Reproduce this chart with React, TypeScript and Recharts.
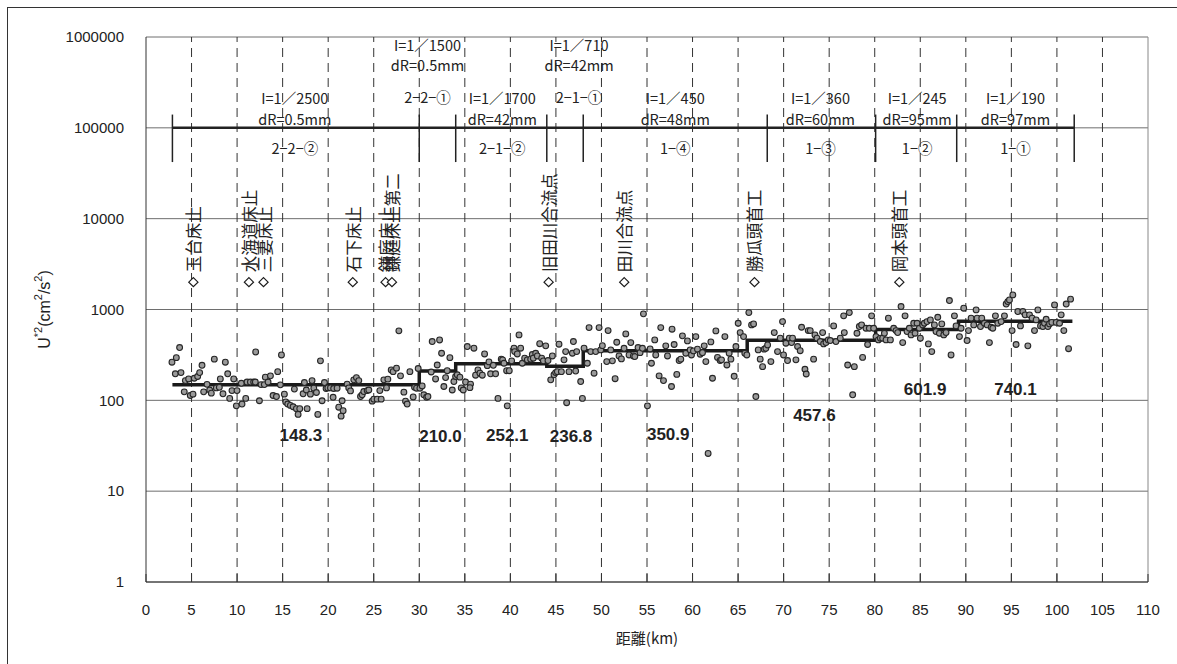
import React from 'react';
import {
  ComposedChart,
  XAxis,
  YAxis,
  CartesianGrid,
  Scatter,
  Line,
  ReferenceLine,
} from 'recharts';

// ---- axes ----
const X_TICKS = [0, 5, 10, 15, 20, 25, 30, 35, 40, 45, 50, 55, 60, 65, 70, 75, 80, 85, 90, 95, 100, 105, 110];
const Y_TICKS = [1, 10, 100, 1000, 10000, 100000, 1000000];
const DASHED_KM = [5, 10, 15, 20, 25, 30, 35, 40, 45, 50, 55, 60, 65, 70, 75, 80, 85, 90, 95, 100, 105];

// ---- U*^2 at each cross-section: [distance km, U*^2 cm2/s2] ----
const SAMPLES: [number, number][] = [
  [2.85, 263], [3.33, 295], [3.69, 381], [3.22, 196], [3.84, 202], [4.32, 165], [4.68, 172], [4.2, 124],
  [4.86, 113], [5.16, 117], [5.3, 175], [5.67, 183], [5.89, 202], [6.15, 243], [6.33, 124], [6.7, 150],
  [6.99, 130], [7.17, 120], [7.5, 284], [7.72, 137], [8.05, 139], [8.16, 172], [8.45, 118], [8.71, 263],
  [8.97, 196], [9.19, 105], [9.44, 128], [9.63, 172], [9.99, 128], [9.92, 87], [10.54, 91], [10.47, 154],
  [10.95, 105], [11.09, 159], [11.46, 159], [11.82, 159], [12.04, 341], [12.0, 159], [12.45, 99], [12.63, 149],
  [12.99, 149], [13.1, 180], [13.4, 159], [13.66, 186], [13.95, 113], [14.32, 110], [14.46, 207], [14.87, 316],
  [14.75, 148], [15.19, 117], [15.34, 96], [15.56, 91], [15.85, 88], [16.15, 85], [16.29, 133], [16.51, 81],
  [16.7, 70], [16.88, 81], [17.25, 118], [17.39, 157], [17.69, 81], [17.6, 130], [18.05, 117], [18.23, 165],
  [18.42, 136], [18.71, 122], [18.86, 70], [19.15, 272], [19.33, 99], [19.59, 157], [19.77, 135], [19.96, 137],
  [20.25, 137], [20.54, 108], [20.6, 135], [20.98, 136], [21.16, 84], [21.42, 67], [21.64, 77], [21.53, 99],
  [22.08, 151], [22.26, 137], [22.45, 127], [22.81, 168], [23.1, 178], [23.36, 165], [23.55, 110], [23.73, 115],
  [23.91, 125], [24.28, 128], [24.46, 130], [24.83, 98], [25.01, 103], [25.38, 103], [25.67, 128], [25.82, 103],
  [26.11, 168], [26.4, 137], [26.55, 171], [26.92, 216], [27.13, 207], [27.5, 226], [27.76, 582], [27.94, 186],
  [28.31, 123], [28.49, 98], [28.67, 91], [28.97, 207], [29.33, 109], [29.48, 139], [29.7, 136], [29.88, 224],
  [30.07, 136], [30.32, 144], [30.5, 115], [30.8, 108], [30.95, 110], [31.42, 444], [31.31, 205], [31.79, 172],
  [31.97, 245], [32.23, 462], [32.45, 330], [32.7, 142], [32.89, 178], [33.07, 212], [33.36, 295], [33.62, 130],
  [33.8, 161], [33.99, 183], [34.17, 191], [34.46, 180], [34.61, 137], [34.83, 130], [35.08, 159], [35.27, 391],
  [35.63, 151], [35.56, 138], [36.0, 375], [36.18, 189], [36.44, 216], [36.66, 199], [36.92, 189], [37.17, 324],
  [37.47, 241], [37.65, 265], [37.83, 196], [38.13, 243], [38.38, 196], [38.64, 105], [39.0, 284], [39.15, 279],
  [39.3, 256], [39.66, 87], [39.59, 212], [39.88, 212], [40.14, 272], [40.4, 375], [40.47, 344], [40.76, 324],
  [40.95, 525], [41.13, 375], [41.31, 256], [41.57, 291], [41.86, 279], [42.23, 284], [42.41, 319], [42.78, 330],
  [42.52, 291], [42.96, 308], [43.22, 420], [43.44, 291], [43.62, 272], [43.88, 398], [44.13, 274], [44.43, 168],
  [44.61, 308], [44.79, 191], [44.97, 202], [45.34, 415], [45.16, 207], [45.6, 207], [45.89, 279], [46.07, 344],
  [46.18, 94], [46.44, 207], [46.81, 330], [46.92, 444], [47.17, 210], [47.28, 344], [47.72, 161], [47.91, 105],
  [48.09, 375], [48.45, 256], [48.64, 632], [48.82, 344], [49.19, 199], [49.37, 344], [49.74, 632], [49.92, 359],
  [50.1, 400], [50.58, 267], [50.73, 586], [51.2, 272], [51.02, 359], [51.5, 173], [51.68, 436], [51.93, 308],
  [52.19, 286], [52.48, 374], [52.67, 539], [53.03, 316], [53.22, 432], [53.51, 308], [53.66, 303], [54.02, 381],
  [54.24, 335], [54.5, 374], [54.61, 896], [55.05, 87], [55.34, 368], [55.49, 256], [55.85, 463], [55.96, 316],
  [56.33, 186], [56.51, 632], [56.81, 165], [57.06, 398], [57.25, 308], [57.69, 142], [57.75, 607], [57.98, 412],
  [58.27, 193], [58.53, 274], [58.71, 284], [58.89, 513], [59.26, 330], [59.44, 451], [59.74, 359], [59.88, 316],
  [60.1, 350], [60.36, 503], [60.54, 366], [60.84, 322], [61.09, 335], [61.28, 398], [61.46, 267], [61.71, 26],
  [62.01, 440], [62.19, 175], [62.56, 581], [62.74, 297], [63.03, 274], [63.18, 279], [63.55, 503], [63.77, 245],
  [64.02, 330], [64.21, 284], [64.57, 184], [64.76, 391], [65.01, 706], [65.23, 557], [65.6, 503], [65.74, 330],
  [65.96, 316], [66.18, 925], [66.48, 677], [66.7, 694], [66.95, 110], [67.21, 359], [67.43, 284], [67.69, 235],
  [67.87, 366], [68.05, 374], [68.24, 407], [68.6, 267], [68.97, 557], [69.33, 344], [69.63, 483], [69.88, 736],
  [69.99, 316], [70.25, 425], [70.43, 274], [70.62, 483], [70.87, 432], [70.98, 483], [71.35, 279], [71.53, 391],
  [71.82, 352], [71.97, 638], [72.34, 220], [72.48, 195], [72.7, 586], [72.92, 586], [73.29, 284], [73.44, 525],
  [73.66, 483], [74.02, 444], [74.28, 557], [74.39, 418], [74.65, 432], [74.9, 463], [75.12, 455], [75.49, 660],
  [75.74, 444], [76.22, 483], [76.66, 557], [76.59, 851], [77.03, 245], [77.21, 925], [77.58, 115], [77.76, 235],
  [78.05, 548], [78.31, 649], [78.67, 297], [78.56, 677], [79.04, 622], [79.22, 412], [79.41, 622], [79.66, 851],
  [79.88, 622], [80.14, 503], [80.4, 463], [80.62, 483], [80.87, 483], [81.06, 548], [81.24, 463], [81.5, 802],
  [81.72, 463], [82.08, 622], [82.34, 586], [82.52, 557], [82.89, 1077], [83.07, 432], [83.33, 851], [83.55, 571],
  [83.8, 622], [83.99, 525], [84.28, 706], [84.43, 548], [84.65, 706], [84.9, 622], [85.01, 483], [85.27, 677],
  [85.45, 706], [85.74, 736], [85.89, 418], [86.11, 768], [86.26, 344], [86.55, 677], [86.73, 571], [86.92, 822],
  [87.1, 548], [87.36, 694], [87.58, 525], [87.83, 557], [88.2, 1254], [88.38, 316], [88.75, 851], [88.93, 660],
  [89.3, 503], [89.48, 622], [89.77, 1033], [90.14, 455], [90.29, 586], [90.58, 802], [90.87, 677], [91.13, 990],
  [91.24, 802], [91.61, 649], [91.75, 802], [92.04, 706], [92.34, 677], [92.59, 432], [92.78, 638], [92.96, 622],
  [93.25, 851], [93.51, 706], [93.88, 736], [94.24, 851], [94.43, 1148], [94.61, 1222], [94.79, 1276], [95.16, 1448],
  [95.08, 586], [95.52, 412], [95.71, 949], [96.0, 660], [96.26, 949], [96.51, 873], [96.81, 398], [96.99, 873],
  [97.28, 802], [97.54, 586], [97.72, 768], [97.91, 990], [98.2, 660], [98.46, 649], [98.64, 706], [98.82, 781],
  [99.01, 649], [99.19, 694], [99.44, 721], [99.74, 1124], [99.92, 721], [100.29, 706], [100.47, 873], [100.76, 586],
  [101.02, 1148], [101.28, 370], [101.5, 1300],
];

// ---- reach averages (step line) ----
const MEAN_BREAKS_KM = [2.9, 30, 34, 44, 48, 66, 80.1, 89.2, 101.7];
const MEAN_U2 = [148.3, 210.0, 252.1, 236.8, 350.9, 457.6, 601.9, 740.1];

// ---- river sections ----
const SECTION_BREAKS_KM = [2.9, 30, 34, 44, 48, 68.2, 80.1, 89, 101.9];
const SECTION_IDS = ['2−2−②', '2−2−①', '2−1−②', '2−1−①', '1−④', '1−③', '1−②', '1−①'];
const SECTION_SLOPES = ['I=1／2500', 'I=1／1500', 'I=1／1700', 'I=1／710', 'I=1／450', 'I=1／360', 'I=1／245', 'I=1／190'];
const SECTION_DR = ['dR=0.5mm', 'dR=0.5mm', 'dR=42mm', 'dR=42mm', 'dR=48mm', 'dR=60mm', 'dR=95mm', 'dR=97mm'];
const SECTION_BAR_LEVEL = 100000;
const SECTION_TICK_RANGE = [42000, 140000];

// ---- structures along the river ----
const LANDMARK_KM = [5.2, 11.3, 12.9, 22.7, 26.3, 27.0, 44.2, 52.5, 66.8, 82.7];
const LANDMARK_NAMES = ['玉台床止', '水海道床止', '三妻床止', '石下床止', '鎌庭床止', '鎌庭床止第二', '旧田川合流点', '田川合流点', '勝瓜頭首工', '岡本頭首工'];
const LANDMARK_LEVEL = 2000;

// ---- label layout (pixel offsets) ----
const MEAN_LABEL_DX = [5, 3, 6, 6, 3, 3, 8, 0];
const MEAN_LABEL_DY = [51, 65, 72, 70, 84, 75, 60, 68];
const SECTION_LABEL_DX = [-1, -10, 1, 14, 0, -1, 1, 0];
const SECTION_LABEL_RAISED = [false, true, false, true, false, false, false, false];

const SANS = "'Liberation Sans', Arial, sans-serif";
const JP = "'Noto Sans CJK JP', 'Noto Sans', sans-serif";

const pointData = SAMPLES.map(([km, u]) => ({ km, u }));
const stepData = [
  ...MEAN_U2.map((u, i) => ({ km: MEAN_BREAKS_KM[i], u })),
  { km: MEAN_BREAKS_KM[MEAN_BREAKS_KM.length - 1], u: MEAN_U2[MEAN_U2.length - 1] },
];
const meanLabelData = MEAN_U2.map((u, i) => ({
  km: (MEAN_BREAKS_KM[i] + MEAN_BREAKS_KM[i + 1]) / 2,
  u,
  i,
}));
const sectionData = SECTION_IDS.map((id, i) => ({
  km: (SECTION_BREAKS_KM[i] + SECTION_BREAKS_KM[i + 1]) / 2,
  u: SECTION_BAR_LEVEL,
  i,
}));
const landmarkData = LANDMARK_KM.map((km, i) => ({ km, u: LANDMARK_LEVEL, name: LANDMARK_NAMES[i] }));

const SamplePoint = (p: any) => (
  <circle cx={p.cx} cy={p.cy} r={2.9} fill="#9a9a9a" stroke="#262626" strokeWidth={1.1} />
);

const LandmarkMark = (p: any) => {
  const { cx, cy } = p;
  const h = 4.6;
  const ty = cy - 10;
  return (
    <g>
      <polygon
        points={`${cx},${cy - h} ${cx + h},${cy} ${cx},${cy + h} ${cx - h},${cy}`}
        fill="#fff"
        stroke="#1c1c1c"
        strokeWidth={1.2}
      />
      <text
        x={cx}
        y={ty}
        transform={`rotate(-90 ${cx} ${ty})`}
        textAnchor="start"
        dominantBaseline="central"
        fontFamily={JP}
        fontSize={16.5}
        fill="#222"
      >
        {p.payload.name}
      </text>
    </g>
  );
};

const MeanLabel = (p: any) => {
  const i = p.payload.i;
  return (
    <text
      x={p.cx + MEAN_LABEL_DX[i]}
      y={p.cy + MEAN_LABEL_DY[i]}
      textAnchor="middle"
      dominantBaseline="central"
      fontFamily={SANS}
      fontWeight="bold"
      fontSize={17}
      fill="#222"
    >
      {p.payload.u.toFixed(1)}
    </text>
  );
};

const SectionLabel = (p: any) => {
  const i = p.payload.i;
  const x = p.cx + SECTION_LABEL_DX[i];
  const rows = SECTION_LABEL_RAISED[i] ? [-83, -63, -31] : [-30, -9, 20];
  const common = {
    x,
    textAnchor: 'middle' as const,
    dominantBaseline: 'central' as const,
    fontFamily: JP,
    fontSize: 14.5,
    fill: '#222',
  };
  return (
    <g>
      <text {...common} y={p.cy + rows[0]}>{SECTION_SLOPES[i]}</text>
      <text {...common} y={p.cy + rows[1]}>{SECTION_DR[i]}</text>
      <text {...common} y={p.cy + rows[2]}>{SECTION_IDS[i]}</text>
    </g>
  );
};

const XTitle = (props: any) => {
  const vb = props.viewBox || { x: 146, y: 582, width: 1002, height: 40 };
  return (
    <text
      x={vb.x + vb.width / 2}
      y={637}
      textAnchor="middle"
      dominantBaseline="central"
      fontFamily={JP}
      fontSize={15}
      fill="#222"
    >
      距離(km)
    </text>
  );
};

const YTitle = (props: any) => {
  const vb = props.viewBox || { x: 0, y: 37, width: 146, height: 545 };
  const cx = 44;
  const cy = vb.y + vb.height / 2;
  return (
    <text
      x={cx}
      y={cy}
      transform={`rotate(-90 ${cx} ${cy})`}
      textAnchor="middle"
      dominantBaseline="central"
      fontFamily={SANS}
      fontSize={16}
      fill="#222"
    >
      U<tspan dy={-6} fontSize={11}>*2</tspan>
      <tspan dy={6}>(cm</tspan>
      <tspan dy={-6} fontSize={11}>2</tspan>
      <tspan dy={6}>/s</tspan>
      <tspan dy={-6} fontSize={11}>2</tspan>
      <tspan dy={6}>)</tspan>
    </text>
  );
};

export default function App() {
  return (
    <div
      style={{
        position: 'absolute',
        left: 0,
        top: 0,
        width: 1177,
        height: 664,
        background: '#fff',
        overflow: 'hidden',
      }}
    >
      <div
        style={{
          position: 'absolute',
          left: 7,
          top: 7,
          width: 1300,
          height: 800,
          borderLeft: '1.5px solid #333',
          borderTop: '1.5px solid #333',
        }}
      />
      <div style={{ position: 'absolute', left: 0, top: 0 }}>
        <ComposedChart width={1177} height={664} margin={{ top: 37, right: 29, bottom: 42, left: 0 }}>
          <CartesianGrid vertical={false} stroke="#6e6e6e" strokeWidth={1} />
          <XAxis
            type="number"
            dataKey="km"
            domain={[0, 110]}
            ticks={X_TICKS}
            interval={0}
            allowDataOverflow
            height={40}
            tickSize={-8}
            tickMargin={30}
            tickLine={{ stroke: '#333' }}
            axisLine={{ stroke: '#333' }}
            tick={{ fontSize: 15, fill: '#222', fontFamily: SANS }}
            label={XTitle}
          />
          <YAxis
            type="number"
            dataKey="u"
            scale="log"
            domain={[1, 1000000]}
            ticks={Y_TICKS}
            interval={0}
            allowDataOverflow
            width={146}
            tickSize={0}
            tickMargin={22}
            tickLine={false}
            axisLine={{ stroke: '#333' }}
            tick={{ fontSize: 15, fill: '#222', fontFamily: SANS }}
            tickFormatter={(v: number) => String(v)}
            label={YTitle}
          />
          {DASHED_KM.map((km) => (
            <ReferenceLine key={`d${km}`} x={km} stroke="#333" strokeWidth={1} strokeDasharray="9 6" />
          ))}
          <ReferenceLine x={110} stroke="#888" strokeWidth={1} />
          <ReferenceLine
            segment={[
              { x: SECTION_BREAKS_KM[0], y: SECTION_BAR_LEVEL },
              { x: SECTION_BREAKS_KM[SECTION_BREAKS_KM.length - 1], y: SECTION_BAR_LEVEL },
            ]}
            stroke="#222"
            strokeWidth={2.5}
          />
          {SECTION_BREAKS_KM.map((km) => (
            <ReferenceLine
              key={`s${km}`}
              segment={[
                { x: km, y: SECTION_TICK_RANGE[0] },
                { x: km, y: SECTION_TICK_RANGE[1] },
              ]}
              stroke="#222"
              strokeWidth={1.5}
            />
          ))}
          <Scatter data={pointData} shape={SamplePoint} isAnimationActive={false} />
          <Line
            data={stepData}
            dataKey="u"
            type="stepAfter"
            stroke="#1a1a1a"
            strokeWidth={3.5}
            dot={false}
            activeDot={false}
            isAnimationActive={false}
          />
          <Scatter data={landmarkData} shape={LandmarkMark} isAnimationActive={false} />
          <Scatter data={meanLabelData} shape={MeanLabel} isAnimationActive={false} />
          <Scatter data={sectionData} shape={SectionLabel} isAnimationActive={false} />
        </ComposedChart>
      </div>
    </div>
  );
}
